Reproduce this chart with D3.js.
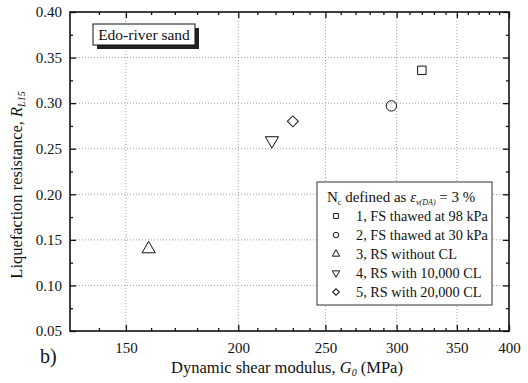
<!DOCTYPE html>
<html>
<head>
<meta charset="utf-8">
<script src="https://cdn.jsdelivr.net/npm/d3@7"></script>
<style>
  html, body { margin: 0; padding: 0; background: #fff; }
  svg { display: block; }
  text { font-family: "Liberation Serif", "Times New Roman", serif; fill: #111; }
</style>
</head>
<body>
<svg id="chart" width="528" height="383"></svg>
<script>
// Test series: dynamic shear modulus G0 (MPa) vs liquefaction resistance RL15
const seriesLabels = [
  "1, FS thawed at 98 kPa",
  "2, FS thawed at 30 kPa",
  "3, RS without CL",
  "4, RS with 10,000 CL",
  "5, RS with 20,000 CL"
];
const seriesSymbols = ["square", "circle", "triangle", "triangleDown", "diamond"];
const shearModulus = [320, 296, 159, 218, 230];
const resistance = [0.336, 0.297, 0.140, 0.259, 0.280];

const xTicks = [150, 200, 250, 300, 350, 400];
const xMinorTicks = [140, 160, 170, 180, 190, 210, 220, 230, 240, 260, 270, 280, 290,
                     310, 320, 330, 340, 360, 370, 380, 390];
const yTicks = [0.05, 0.10, 0.15, 0.20, 0.25, 0.30, 0.35, 0.40];
const yMinorTicks = [0.075, 0.125, 0.175, 0.225, 0.275, 0.325, 0.375];

const svg = d3.select("#chart");
const L = 70, R = 509, T = 12, B = 331;

const x = d3.scaleLog().domain([130, 400]).range([L, R]);
const y = d3.scaleLinear().domain([0.05, 0.40]).range([B, T]);

// dotted grid at major ticks
const grid = svg.append("g").attr("stroke", "#888").attr("stroke-width", 0.8)
  .attr("stroke-dasharray", "1,2");
grid.selectAll("line.gx").data(xTicks.filter(d => d < 400)).join("line")
  .attr("x1", d => x(d)).attr("x2", d => x(d)).attr("y1", T).attr("y2", B);
grid.selectAll("line.gy").data(yTicks.filter(d => d > 0.05 && d < 0.40)).join("line")
  .attr("x1", L).attr("x2", R).attr("y1", d => y(d)).attr("y2", d => y(d));

// axes with inward ticks on all four sides
function styleAxis(g) {
  g.attr("font-family", null).attr("font-size", null);
  g.selectAll(".domain").remove();
  g.selectAll(".tick line").attr("stroke", "#111").attr("stroke-width", 1.3);
  g.selectAll("text").attr("font-family", "Liberation Serif").attr("font-size", 15).attr("fill", "#111");
}
const fmtY = d3.format(".2f");

svg.append("g").attr("transform", `translate(0,${B})`)
  .call(d3.axisBottom(x).tickValues(xTicks).tickFormat(d3.format("d")).tickSize(-6).tickPadding(11))
  .call(styleAxis);
svg.append("g").attr("transform", `translate(0,${B})`)
  .call(d3.axisBottom(x).tickValues(xMinorTicks).tickFormat("").tickSize(-3))
  .call(styleAxis);
svg.append("g").attr("transform", `translate(0,${T})`)
  .call(d3.axisTop(x).tickValues(xTicks).tickFormat("").tickSize(-6))
  .call(styleAxis);
svg.append("g").attr("transform", `translate(0,${T})`)
  .call(d3.axisTop(x).tickValues(xMinorTicks).tickFormat("").tickSize(-3))
  .call(styleAxis);

svg.append("g").attr("transform", `translate(${L},0)`)
  .call(d3.axisLeft(y).tickValues(yTicks).tickFormat(fmtY).tickSize(-6).tickPadding(8))
  .call(styleAxis);
svg.append("g").attr("transform", `translate(${L},0)`)
  .call(d3.axisLeft(y).tickValues(yMinorTicks).tickFormat("").tickSize(-3))
  .call(styleAxis);
svg.append("g").attr("transform", `translate(${R},0)`)
  .call(d3.axisRight(y).tickValues(yTicks).tickFormat("").tickSize(-6))
  .call(styleAxis);
svg.append("g").attr("transform", `translate(${R},0)`)
  .call(d3.axisRight(y).tickValues(yMinorTicks).tickFormat("").tickSize(-3))
  .call(styleAxis);

// frame
svg.append("rect").attr("x", L).attr("y", T).attr("width", R - L).attr("height", B - T)
  .attr("fill", "none").attr("stroke", "#111").attr("stroke-width", 1.6);

// symbol shapes
const symbolMap = {
  square: d3.symbolSquare,
  circle: d3.symbolCircle,
  triangle: d3.symbolTriangle,
  triangleDown: d3.symbolTriangle,
  diamond: d3.symbolSquare
};
function drawSymbol(g, type, cx, cy, size) {
  let rot = "";
  if (type === "triangleDown") rot = " rotate(180)";
  if (type === "diamond") rot = " rotate(45)";
  g.append("path")
    .attr("d", d3.symbol().type(symbolMap[type]).size(size)())
    .attr("transform", `translate(${cx},${cy})` + rot)
    .attr("fill", "none").attr("stroke", "#111").attr("stroke-width", 1);
}

// data markers
const marks = svg.append("g");
const markSize = { square: 72, circle: 85, triangle: 75, triangleDown: 75, diamond: 60 };
shearModulus.forEach((g0, i) => {
  drawSymbol(marks, seriesSymbols[i], x(g0), y(resistance[i]), markSize[seriesSymbols[i]]);
});

// "Edo-river sand" label box with drop shadow
const tb = svg.append("g");
tb.append("rect").attr("x", 97).attr("y", 28).attr("width", 102).attr("height", 21).attr("fill", "#222");
tb.append("rect").attr("x", 93).attr("y", 24).attr("width", 102).attr("height", 21)
  .attr("fill", "#fff").attr("stroke", "#111").attr("stroke-width", 1);
tb.append("text").attr("x", 144).attr("y", 40).attr("text-anchor", "middle")
  .attr("font-size", 15.5).text("Edo-river sand");

// legend
const lg = svg.append("g");
lg.append("rect").attr("x", 317).attr("y", 182).attr("width", 175).attr("height", 123)
  .attr("fill", "#fff").attr("stroke", "#333").attr("stroke-width", 1);
const title = lg.append("text").attr("x", 327).attr("y", 202).attr("font-size", 15);
title.append("tspan").text("N");
title.append("tspan").attr("font-size", 8).attr("dy", 3).text("c");
title.append("tspan").attr("dy", -3).text(" defined as ");
title.append("tspan").attr("font-style", "italic").text("ε");
title.append("tspan").attr("font-size", 8).attr("font-style", "italic").attr("dy", 3).text("v(DA)");
title.append("tspan").attr("dy", -3).text(" = 3 %");

seriesLabels.forEach((lab, i) => {
  const cy = 221 + i * 19;
  drawSymbol(lg, seriesSymbols[i], 336, cy - 5, seriesSymbols[i] === "diamond" ? 22 : 24);
  lg.append("text").attr("x", 356).attr("y", cy).attr("font-size", 14.3).text(lab);
});

// axis titles
const xt = svg.append("text").attr("x", 287).attr("y", 373).attr("text-anchor", "middle").attr("font-size", 16.5);
xt.append("tspan").text("Dynamic shear modulus, ");
xt.append("tspan").attr("font-style", "italic").text("G");
xt.append("tspan").attr("font-style", "italic").attr("font-size", 10).attr("dy", 3).text("0");
xt.append("tspan").attr("dy", -3).text(" (MPa)");

const yt = svg.append("text").attr("transform", "translate(22,185) rotate(-90)")
  .attr("text-anchor", "middle").attr("font-size", 16.5);
yt.append("tspan").text("Liquefaction resistance, ");
yt.append("tspan").attr("font-style", "italic").text("R");
yt.append("tspan").attr("font-style", "italic").attr("font-size", 10).attr("dy", 3).text("L15");

svg.append("text").attr("x", 40).attr("y", 363).attr("font-family", "Liberation Sans")
  .attr("font-size", 20).text("b)");
</script>
</body>
</html>
